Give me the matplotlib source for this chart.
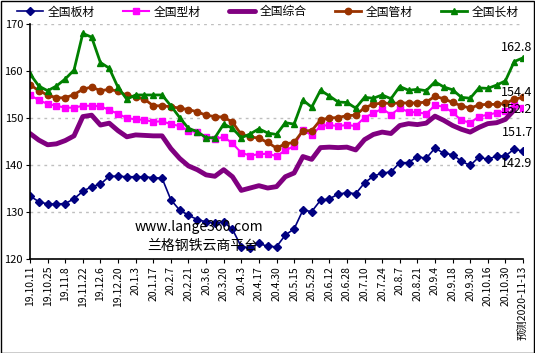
import matplotlib
matplotlib.use("Agg")
import matplotlib.pyplot as plt
from matplotlib.patches import Rectangle
import numpy as np

plt.rcParams['font.family'] = ['Noto Sans CJK SC', 'DejaVu Sans']

# tick labels (every second week is labelled)
tick_labels = ["19.10.11", "19.10.25", "19.11.8", "19.11.22", "19.12.6", "19.12.20",
               "20.1.3", "20.1.17", "20.2.7", "20.2.21", "20.3.6", "20.3.20",
               "20.4.3", "20.4.17", "20.4.30", "20.5.15", "20.5.29", "20.6.12",
               "20.6.28", "20.7.10", "20.7.24", "20.8.7", "20.8.21", "20.9.4",
               "20.9.18", "20.9.30", "20.10.16", "20.10.30", "预测2020-11-13"]

plate = [133.4, 132.2, 131.7, 131.7, 131.8, 132.8, 134.4, 135.4, 135.9, 137.6,
         137.6, 137.5, 137.5, 137.5, 137.3, 137.2, 132.6, 130.4, 129.3, 128.4,
         127.9, 127.7, 127.9, 126.3, 122.6, 122.4, 123.3, 122.7, 122.6, 125.1,
         126.4, 130.4, 130.1, 132.5, 132.8, 133.8, 134.1, 133.9, 136.2, 137.6,
         138.3, 138.5, 140.5, 140.5, 141.8, 141.4, 143.6, 142.5, 142.2, 140.8,
         139.9, 141.7, 141.2, 141.9, 141.9, 143.4, 142.9]

section = [154.9, 153.8, 153.0, 152.6, 152.2, 152.2, 152.6, 152.6, 152.5, 151.7,
           150.9, 150.0, 149.7, 149.6, 149.2, 149.3, 148.7, 148.3, 147.3, 147.0,
           146.0, 145.5, 146.0, 144.6, 142.6, 142.0, 142.3, 142.4, 141.9, 143.1,
           144.0, 147.5, 146.3, 148.3, 148.5, 148.3, 148.5, 148.3, 150.1, 151.0,
           152.0, 150.7, 152.1, 151.3, 151.2, 150.9, 152.7, 152.4, 151.2, 149.5,
           149.0, 150.3, 150.7, 151.1, 151.4, 152.8, 152.2]

# composite index has no forecast point
composite = [146.7, 145.3, 144.3, 144.5, 145.2, 146.2, 150.3, 150.6, 148.5, 148.9,
             147.3, 146.0, 146.4, 146.3, 146.2, 146.2, 143.5, 141.4, 139.8, 139.0,
             137.9, 137.6, 139.0, 137.5, 134.6, 135.1, 135.6, 135.1, 135.4, 137.5,
             138.3, 141.8, 141.2, 143.7, 143.8, 143.7, 143.8, 143.2, 145.4, 146.5,
             147.0, 146.7, 148.4, 148.8, 148.6, 148.9, 150.4, 149.5, 148.4, 147.6,
             147.0, 148.0, 148.8, 149.0, 149.7, 151.7]

pipe = [157.1, 155.8, 154.9, 154.3, 154.3, 155.0, 156.1, 156.6, 155.8, 156.1,
        155.7, 154.8, 154.5, 154.0, 152.6, 152.6, 152.4, 152.1, 151.8, 151.3,
        150.6, 150.3, 150.2, 149.1, 146.5, 146.0, 145.7, 144.8, 143.6, 144.5,
        144.8, 147.3, 147.3, 149.6, 150.0, 150.1, 150.5, 150.6, 152.2, 152.9,
        153.2, 153.1, 153.2, 153.2, 153.2, 153.4, 154.6, 154.1, 153.3, 152.6,
        152.1, 152.8, 152.9, 152.9, 153.1, 154.0, 154.4]

long_prod = [159.4, 156.8, 155.8, 156.8, 158.3, 160.2, 168.0, 167.2, 161.8, 160.6,
             156.5, 154.0, 154.9, 154.9, 154.9, 154.9, 152.6, 150.1, 147.8, 147.1,
             145.8, 145.8, 148.7, 147.8, 145.8, 146.6, 147.7, 146.8, 146.5, 149.0,
             148.7, 153.8, 152.3, 155.9, 154.7, 153.4, 153.3, 152.1, 154.4, 154.2,
             154.9, 154.1, 156.7, 155.9, 156.1, 155.8, 157.7, 156.6, 156.0, 154.4,
             154.2, 156.4, 156.3, 157.0, 157.9, 162.0, 162.8]

x = np.arange(len(plate))
xc = np.arange(len(composite))

fig = plt.figure(figsize=(5.35, 3.53), dpi=100)
ax = fig.add_axes([30 / 535, 94 / 353, 493 / 535, 235 / 353])

h1, = ax.plot(x, plate, color='#000080', lw=1.2, marker='D', ms=3.8, label='全国板材')
h2, = ax.plot(x, section, color='#FF00FF', lw=1.5, marker='s', ms=5, label='全国型材')
h3, = ax.plot(xc, composite, color='#800080', lw=3.5, solid_joinstyle='round',
              solid_capstyle='round', label='全国综合')
h4, = ax.plot(x, pipe, color='#993300', lw=2, marker='o', ms=4.6, label='全国管材')
h5, = ax.plot(x, long_prod, color='#008000', lw=2, marker='^', ms=5, label='全国长材')

# labels for the last values
last = [(long_prod, x[-1], (-6, 10)), (pipe, x[-1], (-6, 5)), (section, x[-1], (-6, -2)),
        (composite, xc[-1], (3, -22)), (plate, x[-1], (-6, -12))]
for series, xi, off in last:
    ax.annotate("%.1f" % series[-1], xy=(xi, series[-1]), xytext=off,
                textcoords='offset pixels', ha='center', va='center', fontsize=9)

ax.set_ylim(120, 170)
ax.set_yticks(range(120, 171, 10))
ax.set_xlim(0, len(plate) - 1)
ax.set_xticks(np.arange(0, len(plate), 2))
ax.set_xticklabels(tick_labels, rotation=90, fontsize=7.5)
ax.tick_params(axis='y', labelsize=8, length=3, pad=2)
ax.tick_params(axis='x', length=3, pad=2)
ax.grid(axis='y', color='#BFBFBF', linestyle=(0, (2, 3)), lw=1)
ax.spines['top'].set_visible(False)
ax.spines['right'].set_visible(False)
ax.spines['left'].set_linewidth(1.2)
ax.spines['bottom'].set_linewidth(1.2)

fig.legend(handles=[h1, h2, h3, h4, h5], loc='center', bbox_to_anchor=(0.5, 1 - 12 / 353),
           ncol=5, frameon=False, fontsize=8.5, handlelength=2.2, columnspacing=2.4,
           handletextpad=0.4)

fig.text(199 / 535, 1 - 227 / 353, "www.lange360.com", ha='center', va='center', fontsize=10)
fig.text(203 / 535, 1 - 246 / 353, "兰格钢铁云商平台", ha='center', va='center', fontsize=10)

fig.patches.append(Rectangle((0.001, 0.001), 0.997, 0.997, transform=fig.transFigure,
                             fill=False, edgecolor='black', lw=1))

fig.savefig("out.png", dpi=100)
